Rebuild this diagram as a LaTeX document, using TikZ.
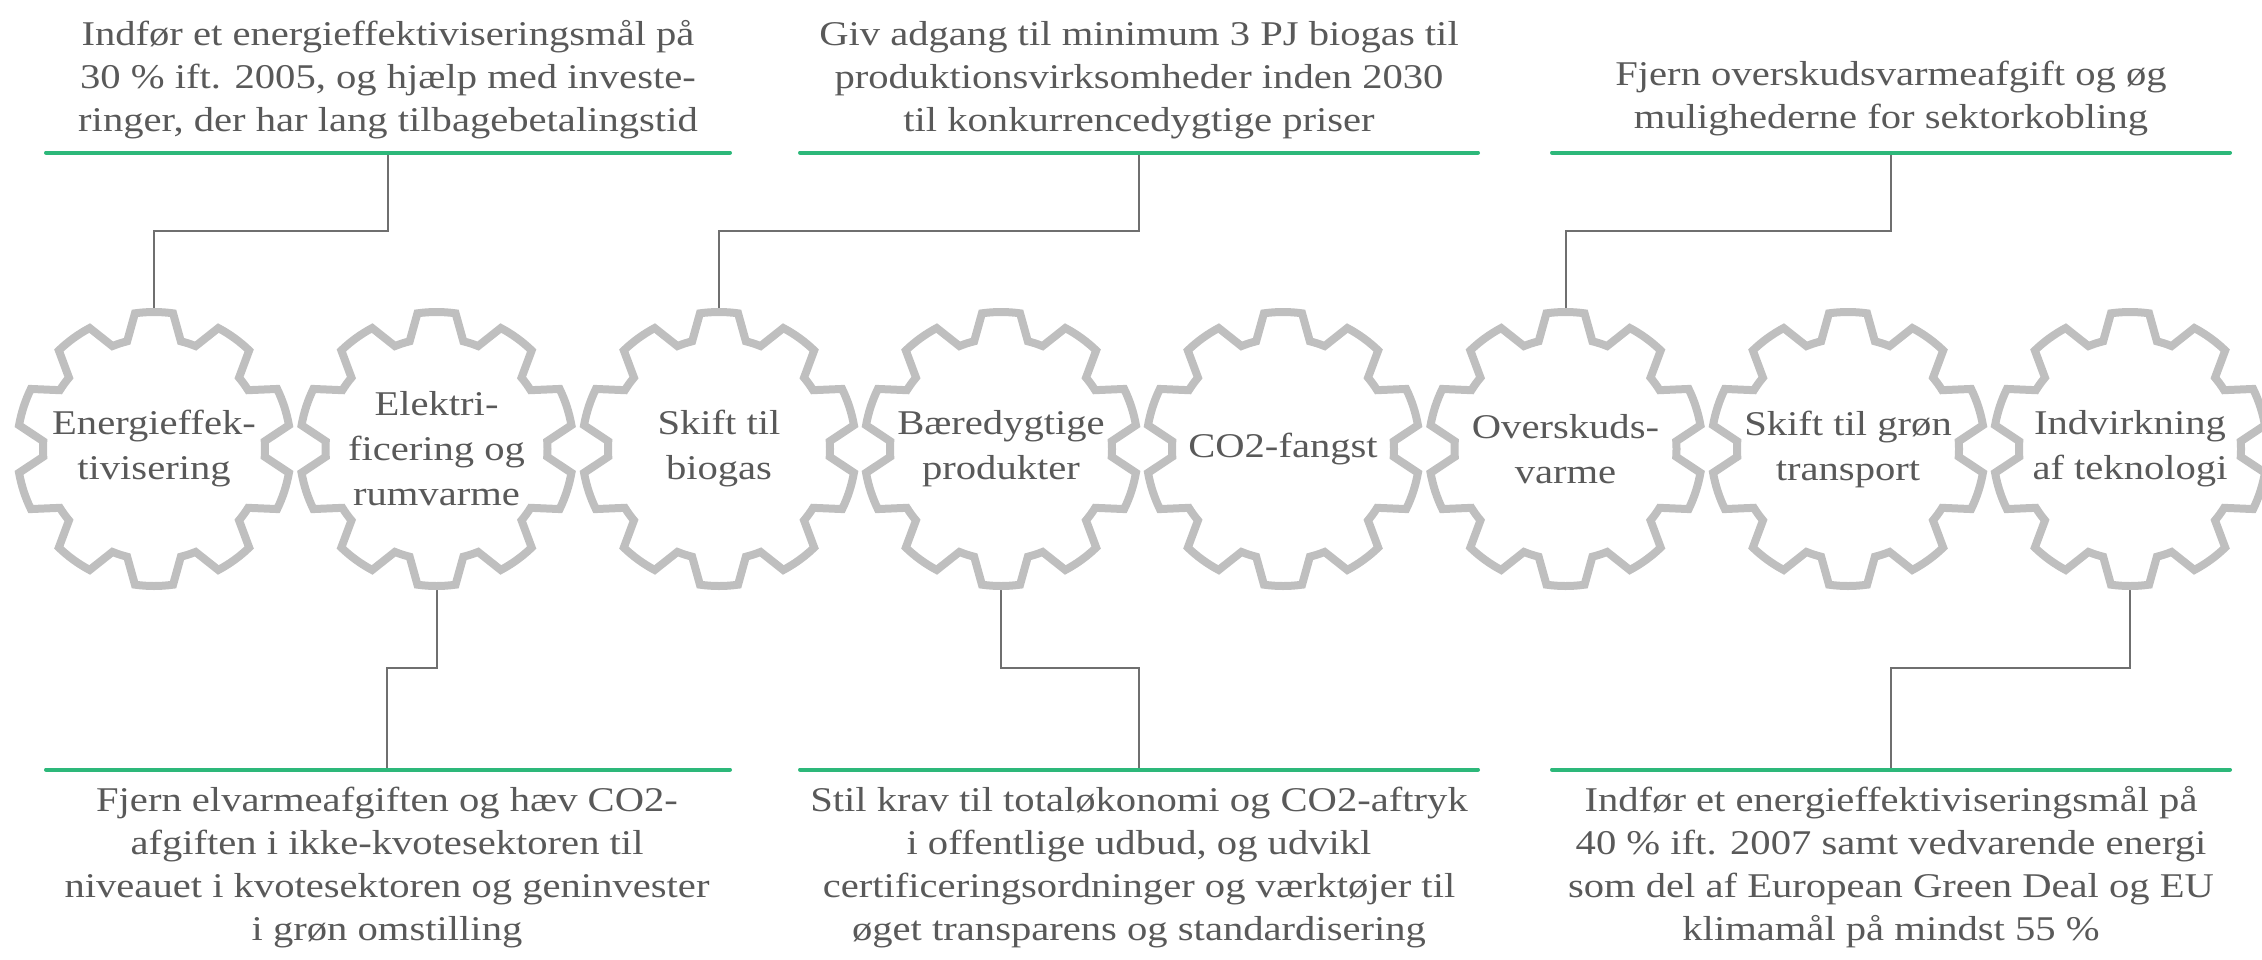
\documentclass[tikz,border=0pt]{standalone}
\usepackage{fontspec}
\setmainfont{Liberation Serif}[FakeStretch=1.17]
\definecolor{txt}{HTML}{595959}
\definecolor{gearc}{HTML}{BFBFBF}
\definecolor{grn}{HTML}{2DB87A}
\definecolor{conc}{HTML}{6F6F6F}
\tikzset{
  gearline/.style={draw=gearc, line width=8pt, line join=miter},
  grline/.style={draw=grn, line width=4pt, line cap=round},
  conn/.style={draw=conc, line width=2pt},
  body/.style={text=txt, align=center, inner sep=0pt, font=\fontsize{34.7}{43}\selectfont},
  geartxt/.style={text=txt, align=center, inner sep=0pt, font=\fontsize{34.7}{45}\selectfont},
  gearshape/.pic={
    \draw[gearline] (76:111)
      \foreach \a in {90,126,...,414} {
        -- ({\a-14}:111) -- ({\a-8}:137)
        arc[start angle=\a-8, end angle=\a+8, radius=137]
        -- ({\a+14}:111)
        arc[start angle=\a+14, end angle=\a+22, radius=111]
      } -- cycle;
  }
}
\begin{document}
\begin{tikzpicture}[x=1pt,y=-1pt]
\useasboundingbox (0,0) rectangle (2262,959);
\clip (0,0) rectangle (2262,959);

% gear centres
\foreach \i/\x in {1/154,2/436.5,3/719,4/1001,5/1283,6/1565.5,7/1848,8/2130} {
  \coordinate (c\i) at (\x,449);
  \coordinate (c\i t) at (\x,308);
  \coordinate (c\i b) at (\x,590);
}

% green lines
\coordinate (a1) at (46,152.5);   \coordinate (b1) at (730,152.5);  \coordinate (l1) at (388,152.5);
\coordinate (a2) at (800,152.5);  \coordinate (b2) at (1478,152.5); \coordinate (l2) at (1139,152.5);
\coordinate (a3) at (1552,152.5); \coordinate (b3) at (2230,152.5); \coordinate (l3) at (1891,152.5);
\coordinate (a4) at (46,769.5);   \coordinate (b4) at (730,769.5);  \coordinate (l4) at (387,769.5);
\coordinate (a5) at (800,769.5);  \coordinate (b5) at (1478,769.5); \coordinate (l5) at (1139,769.5);
\coordinate (a6) at (1552,769.5); \coordinate (b6) at (2230,769.5); \coordinate (l6) at (1891,769.5);

% connectors
\draw[conn] (l1) -- ++(0,78.5) -| (c1t);
\draw[conn] (l2) -- ++(0,78.5) -| (c3t);
\draw[conn] (l3) -- ++(0,78.5) -| (c6t);
\draw[conn] (c2b) -- ++(0,78) -| (l4);
\draw[conn] (c4b) -- ++(0,78) -| (l5);
\draw[conn] (c8b) -- ++(0,78) -| (l6);

\foreach \i in {1,...,6} { \draw[grline] (a\i) -- (b\i); }

% gears
\foreach \i in {1,...,8} { \pic at (c\i) {gearshape}; }

\node[geartxt] (g1) at (c1) {Energieffek-\\tivisering};
\node[geartxt] (g2) at (c2) {Elektri-\\ficering og\\rumvarme};
\node[geartxt] (g3) at (c3) {Skift til\\biogas};
\node[geartxt] (g4) at (c4) {Bæredygtige\\produkter};
\node[geartxt] (g5) at (c5) {CO2-fangst};
\node[geartxt] (g6) at (c6) {Overskuds-\\varme};
\node[geartxt] (g7) at (c7) {Skift til grøn\\transport};
\node[geartxt] (g8) at (c8) {Indvirkning\\af teknologi};

% texts (base anchor = baseline of the last line)
\node[body, anchor=base] (t1) at (388,131) {Indfør et energieffektiviseringsmål på\\30 \% ift. 2005, og hjælp med investe-\\ringer, der har lang tilbagebetalingstid};
\node[body, anchor=base] (t2) at (1139,131) {Giv adgang til minimum 3 PJ biogas til\\produktionsvirksomheder inden 2030\\til konkurrencedygtige priser};
\node[body, anchor=base] (t3) at (1891,128) {Fjern overskudsvarmeafgift og øg\\mulighederne for sektorkobling};
\node[body, anchor=base] (t4) at (387,940) {Fjern elvarmeafgiften og hæv CO2-\\afgiften i ikke-kvotesektoren til\\niveauet i kvotesektoren og geninvester\\i grøn omstilling};
\node[body, anchor=base] (t5) at (1139,940) {Stil krav til totaløkonomi og CO2-aftryk\\i offentlige udbud, og udvikl\\certificeringsordninger og værktøjer til\\øget transparens og standardisering};
\node[body, anchor=base] (t6) at (1891,940) {Indfør et energieffektiviseringsmål på\\40 \% ift. 2007 samt vedvarende energi\\som del af European Green Deal og EU\\klimamål på mindst 55 \%};
\end{tikzpicture}
\end{document}
